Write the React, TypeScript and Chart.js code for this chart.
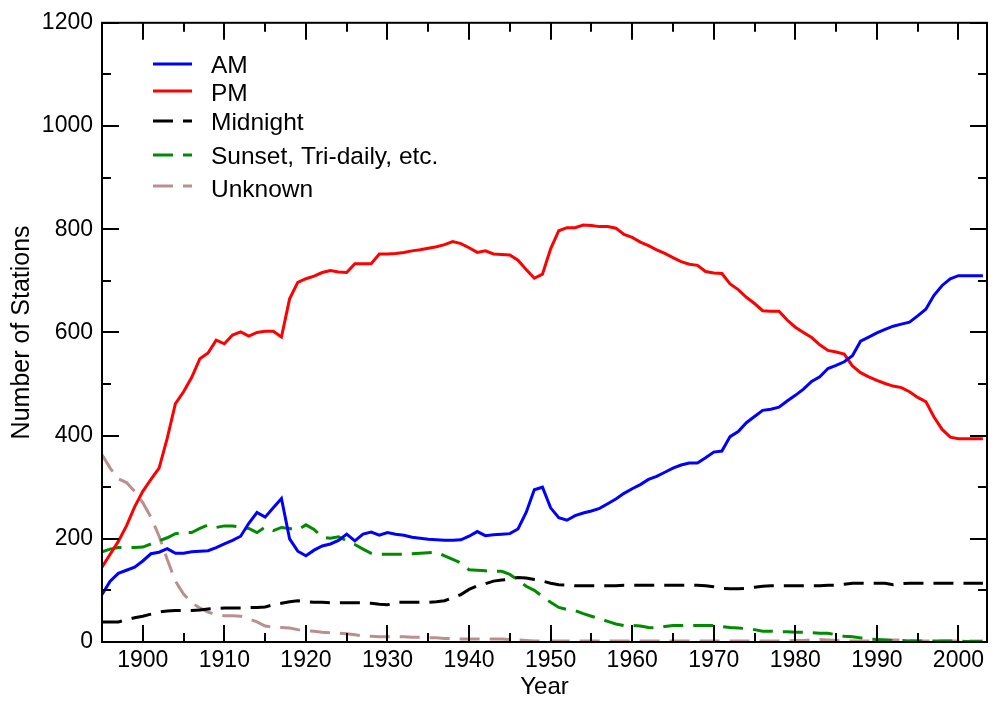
import React, { useEffect, useRef } from "react";
import { Chart, registerables } from "chart.js";

Chart.register(...registerables);

// Observation years (annual counts)
const years = [
  1895, 1896, 1897, 1898, 1899, 1900, 1901, 1902, 1903, 1904,
  1905, 1906, 1907, 1908, 1909, 1910, 1911, 1912, 1913, 1914,
  1915, 1916, 1917, 1918, 1919, 1920, 1921, 1922, 1923, 1924,
  1925, 1926, 1927, 1928, 1929, 1930, 1931, 1932, 1933, 1934,
  1935, 1936, 1937, 1938, 1939, 1940, 1941, 1942, 1943, 1944,
  1945, 1946, 1947, 1948, 1949, 1950, 1951, 1952, 1953, 1954,
  1955, 1956, 1957, 1958, 1959, 1960, 1961, 1962, 1963, 1964,
  1965, 1966, 1967, 1968, 1969, 1970, 1971, 1972, 1973, 1974,
  1975, 1976, 1977, 1978, 1979, 1980, 1981, 1982, 1983, 1984,
  1985, 1986, 1987, 1988, 1989, 1990, 1991, 1992, 1993, 1994,
  1995, 1996, 1997, 1998, 1999, 2000, 2001, 2002, 2003,
];

const amStations = [
  92, 118, 133, 139, 145, 157, 171, 174, 181, 172,
  172, 175, 176, 177, 183, 190, 197, 205, 230, 251,
  242, 260, 278, 200, 176, 167, 178, 186, 190, 197,
  209, 196, 209, 213, 207, 212, 209, 207, 203, 201,
  199, 198, 197, 197, 198, 205, 214, 206, 208, 209,
  210, 219, 251, 295, 300, 260, 241, 236, 245, 250,
  254, 259, 268, 277, 288, 297, 305, 315, 321, 329,
  337, 343, 347, 347, 357, 368, 370, 398, 408, 425,
  437, 449, 451, 455, 467, 478, 490, 505, 514, 530,
  536, 543, 555, 583, 591, 599, 606, 612, 616, 620,
  632, 645, 672, 691, 704, 710, 710, 710, 710,
];

const pmStations = [
  145, 170, 195, 225, 262, 292, 315, 337, 395, 462,
  485, 513, 549, 560, 585, 578, 595, 601, 593, 600,
  602, 602, 591, 665, 697, 704, 709, 716, 720, 717,
  716, 733, 733, 733, 752, 752, 753, 755, 758, 760,
  763, 766, 770, 776, 772, 764, 755, 758, 752, 751,
  750, 740, 722, 705, 713, 762, 797, 803, 803, 808,
  807, 805, 805, 802, 790, 784, 775, 768, 760, 753,
  745, 737, 732, 730, 718, 715, 714, 694, 683, 668,
  656, 642, 641, 641, 624, 610, 600, 590, 576, 565,
  562, 558, 535, 522, 514, 507, 501, 496, 493, 485,
  474, 466, 436, 412, 397, 394, 394, 394, 394,
];

const midnightStations = [
  39, 39, 39, 43, 47, 50, 54, 58, 60, 61,
  61, 61, 62, 64, 65, 66, 66, 66, 67, 67,
  68, 72, 75, 78, 80, 78, 77, 77, 76, 76,
  76, 76, 76, 75, 73, 72, 77, 77, 77, 77,
  77, 78, 80, 86, 92, 102, 109, 113, 118, 120,
  122, 125, 124, 121, 118, 114, 111, 110, 109, 109,
  109, 109, 109, 109, 110, 110, 110, 110, 110, 110,
  110, 110, 110, 110, 109, 107, 104, 103, 103, 104,
  106, 108, 109, 109, 109, 109, 109, 109, 109, 110,
  110, 112, 114, 114, 114, 114, 114, 111, 113, 114,
  114, 114, 114, 114, 114, 114, 114, 114, 114,
];

const sunsetStations = [
  175, 180, 183, 183, 183, 184, 190, 196, 202, 210,
  212, 212, 220, 227, 222, 225, 225, 223, 220, 212,
  223, 216, 222, 220, 217, 227, 218, 203, 201, 204,
  196, 189, 180, 172, 170, 170, 170, 170, 171, 172,
  173, 174, 167, 160, 153, 140, 139, 138, 137, 137,
  131, 120, 108, 100, 88, 77, 67, 63, 61, 55,
  50, 45, 40, 35, 32, 32, 31, 28, 27, 30,
  32, 32, 32, 32, 32, 32, 30, 28, 27, 26,
  24, 21, 21, 20, 20, 19, 19, 18, 17, 17,
  14, 11, 10, 8, 6, 5, 4, 3, 3, 2,
  2, 2, 2, 2, 2, 2, 1, 1, 1,
];

const unknownStations = [
  363, 337, 316, 309, 292, 270, 242, 205, 160, 118,
  93, 76, 66, 58, 53, 51, 51, 50, 45, 39,
  31, 29, 28, 27, 24, 22, 21, 19, 18, 17,
  16, 14, 12, 11, 10, 10, 10, 10, 9, 9,
  8, 8, 7, 7, 6, 6, 6, 6, 6, 6,
  5, 4, 3, 2, 2, 2, 2, 2, 2, 2,
  2, 2, 2, 2, 2, 2, 2, 2, 2, 2,
  2, 2, 2, 2, 2, 2, 2, 2, 2, 2,
  2, 2, 2, 2, 2, 3, 3, 4, 5, 4,
  3, 2, 2, 2, 2, 3, 4, 4, 4, 3,
  2, 2, 2, 2, 2, 2, 2, 2, 2,
];

const seriesLabels = ["AM", "PM", "Midnight", "Sunset, Tri-daily, etc.", "Unknown"];

// Axis ticks
const xMajorTicks = [1900, 1910, 1920, 1930, 1940, 1950, 1960, 1970, 1980, 1990, 2000];
const xMinorTicks = [1905, 1915, 1925, 1935, 1945, 1955, 1965, 1975, 1985, 1995];
const yMajorTicks = [0, 200, 400, 600, 800, 1000, 1200];
const yMinorTicks = [100, 300, 500, 700, 900, 1100];

const FONT = "'Liberation Sans', Arial, Helvetica, sans-serif";

const styles = [
  { color: "#0000ff", dash: [] as number[] },
  { color: "#ff0000", dash: [] as number[] },
  { color: "#000000", dash: [20, 10] },
  { color: "#008b00", dash: [20, 10] },
  { color: "#bc8f8f", dash: [20, 10] },
];

const seriesValues = [amStations, pmStations, midnightStations, sunsetStations, unknownStations];

// Plot box with inward major/minor ticks on all four sides
const framePlugin = {
  id: "frameTicks",
  afterDatasetsDraw(chart: any) {
    const { ctx, chartArea: a, scales } = chart;
    const xs = scales.x;
    const ys = scales.y;
    ctx.save();
    ctx.strokeStyle = "#000";
    ctx.lineWidth = 2;
    ctx.lineCap = "butt";
    ctx.strokeRect(a.left, a.top, a.right - a.left, a.bottom - a.top);
    ctx.beginPath();
    const xTick = (v: number, len: number) => {
      const px = Math.round(xs.getPixelForValue(v));
      ctx.moveTo(px, a.bottom);
      ctx.lineTo(px, a.bottom - len);
      ctx.moveTo(px, a.top);
      ctx.lineTo(px, a.top + len);
    };
    const yTick = (v: number, len: number) => {
      const py = Math.round(ys.getPixelForValue(v));
      ctx.moveTo(a.left, py);
      ctx.lineTo(a.left + len, py);
      ctx.moveTo(a.right, py);
      ctx.lineTo(a.right - len, py);
    };
    xMajorTicks.forEach((v) => xTick(v, 17));
    xMinorTicks.forEach((v) => xTick(v, 9));
    yMajorTicks.forEach((v) => yTick(v, 17));
    yMinorTicks.forEach((v) => yTick(v, 9));
    ctx.stroke();
    ctx.restore();
  },
};

// Legend drawn inside the plot, upper left
const legendRows = [
  { lineY: 64, baseline: 73 },
  { lineY: 91, baseline: 101 },
  { lineY: 121, baseline: 130 },
  { lineY: 155, baseline: 164 },
  { lineY: 186, baseline: 197 },
];

const legendPlugin = {
  id: "insideLegend",
  afterDatasetsDraw(chart: any) {
    const { ctx } = chart;
    ctx.save();
    chart.data.datasets.forEach((ds: any, i: number) => {
      const row = legendRows[i];
      ctx.beginPath();
      ctx.strokeStyle = ds.borderColor;
      ctx.lineWidth = ds.borderWidth;
      ctx.setLineDash(ds.borderDash || []);
      ctx.moveTo(153, row.lineY);
      ctx.lineTo(192, row.lineY);
      ctx.stroke();
      ctx.setLineDash([]);
      ctx.fillStyle = "#000";
      ctx.font = `24.5px ${FONT}`;
      ctx.textAlign = "left";
      ctx.textBaseline = "alphabetic";
      ctx.fillText(ds.label, 211, row.baseline);
    });
    ctx.restore();
  },
};

export default function App() {
  const canvasRef = useRef<HTMLCanvasElement>(null);

  useEffect(() => {
    document.body.style.margin = "0";
    const canvas = canvasRef.current;
    if (!canvas) return;

    const datasets = seriesValues.map((vals, i) => ({
      label: seriesLabels[i],
      data: years.map((yr, j) => ({ x: yr, y: vals[j] })),
      borderColor: styles[i].color,
      backgroundColor: styles[i].color,
      borderWidth: 3,
      borderDash: styles[i].dash,
      pointRadius: 0,
      tension: 0,
      fill: false,
    }));

    const chart = new Chart(canvas, {
      type: "line",
      data: { datasets },
      options: {
        animation: false,
        responsive: false,
        events: [],
        layout: { padding: { top: 19, right: 8, left: 0, bottom: 0 } },
        plugins: {
          legend: { display: false },
          tooltip: { enabled: false },
        },
        scales: {
          x: {
            type: "linear",
            min: 1895,
            max: 2003.5,
            grid: { display: false, drawTicks: false },
            border: { display: false },
            ticks: {
              color: "#000",
              padding: 5,
              font: { family: FONT, size: 23 },
              callback: (v: any) => String(v),
            },
            afterBuildTicks: (s: any) => {
              s.ticks = xMajorTicks.map((v) => ({ value: v }));
            },
            afterFit: (s: any) => {
              s.height = 62;
            },
            title: {
              display: true,
              text: "Year",
              color: "#000",
              font: { family: FONT, size: 24 },
              padding: { top: 0, bottom: 2 },
            },
          },
          y: {
            type: "linear",
            min: 0,
            max: 1200,
            grid: { display: false, drawTicks: false },
            border: { display: false },
            ticks: {
              color: "#000",
              padding: 9,
              font: { family: FONT, size: 23 },
              callback: (v: any) => String(v),
            },
            afterBuildTicks: (s: any) => {
              s.ticks = yMajorTicks.map((v) => ({ value: v }));
            },
            afterFit: (s: any) => {
              s.width = 102;
            },
            title: {
              display: true,
              text: "Number of Stations",
              color: "#000",
              font: { family: FONT, size: 25 },
              padding: { top: 7, bottom: 0 },
            },
          },
        },
      } as any,
      plugins: [framePlugin, legendPlugin],
    });

    return () => chart.destroy();
  }, []);

  return (
    <div style={{ position: "absolute", left: 0, top: 0, width: 995, height: 704, background: "#fff" }}>
      <canvas ref={canvasRef} width={995} height={704} style={{ display: "block" }} />
    </div>
  );
}
